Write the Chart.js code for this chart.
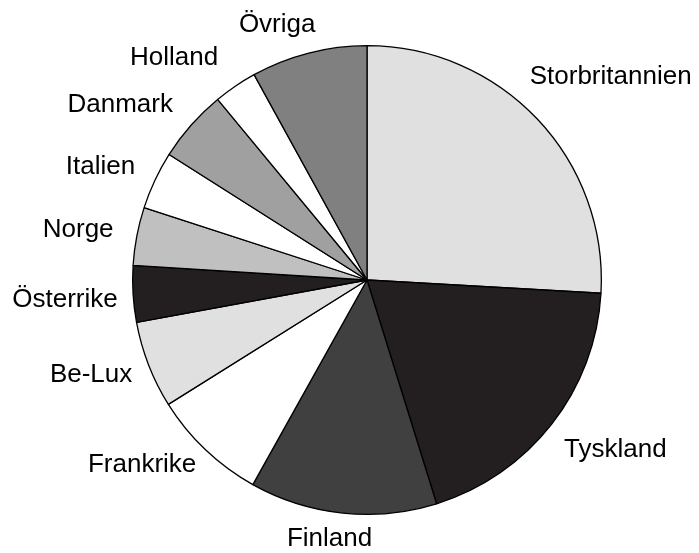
<!DOCTYPE html>
<html>
<head>
<meta charset="utf-8">
<script src="https://cdn.jsdelivr.net/npm/chart.js@4"></script>
<style>
  html, body { margin: 0; padding: 0; background: #fff; }
  #wrap { width: 699px; height: 553px; }
</style>
</head>
<body>
<div id="wrap"><canvas id="pie"></canvas></div>
<script>
// ===== DATA =====
const lander = ["Storbritannien", "Tyskland", "Finland", "Frankrike", "Be-Lux",
  "Österrike", "Norge", "Italien", "Danmark", "Holland", "Övriga"];
const andelar = [25.9, 19.3, 12.9, 8.0, 6.0, 3.9, 4.0, 4.0, 5.0, 3.0, 8.0];
const farger = ["#e0e0e0", "#231f20", "#404040", "#ffffff", "#e0e0e0",
  "#231f20", "#c0c0c0", "#ffffff", "#a0a0a0", "#ffffff", "#808080"];

// justering av etiketterna (grader runt mitten av sektorn, px utåt)
const etikettVinkel = [3.5, -3.6, 2.3, 7, 2.2, -0.4, -1, -2.2, -6, -6.7, -5];
const etikettAvstand = [-5, -1, -9, -11, -4, -4, 3, 0, 0, 4, -6];

// ===== ETIKETTER =====
const etiketter = {
  id: "etiketter",
  afterDatasetsDraw(chart) {
    const ctx = chart.ctx;
    const arcs = chart.getDatasetMeta(0).data;
    ctx.save();
    ctx.font = "26px 'Liberation Sans', Arial, sans-serif";
    ctx.fillStyle = "#000";
    ctx.textAlign = "center";
    ctx.textBaseline = "middle";
    arcs.forEach((arc, i) => {
      const mid = (arc.startAngle + arc.endAngle) / 2 + etikettVinkel[i] * Math.PI / 180;
      const dx = Math.cos(mid), dy = Math.sin(mid);
      const hw = ctx.measureText(lander[i]).width / 2;
      const hh = 11;
      const d = arc.outerRadius + 19 + hw * Math.abs(dx) + hh * Math.abs(dy) + etikettAvstand[i];
      ctx.fillText(lander[i], arc.x + dx * d, arc.y + dy * d);
    });
    ctx.restore();
  }
};

// ===== DIAGRAM =====
new Chart(document.getElementById("pie"), {
  type: "pie",
  data: {
    labels: lander,
    datasets: [{
      data: andelar,
      backgroundColor: farger,
      borderColor: "#000",
      borderWidth: 1.3,
    }]
  },
  options: {
    responsive: true,
    maintainAspectRatio: false,
    animation: false,
    layout: { padding: { left: 132, right: 97, top: 45, bottom: 38 } },
    plugins: {
      legend: { display: false },
      tooltip: { enabled: false },
    },
  },
  plugins: [etiketter],
});
</script>
</body>
</html>
